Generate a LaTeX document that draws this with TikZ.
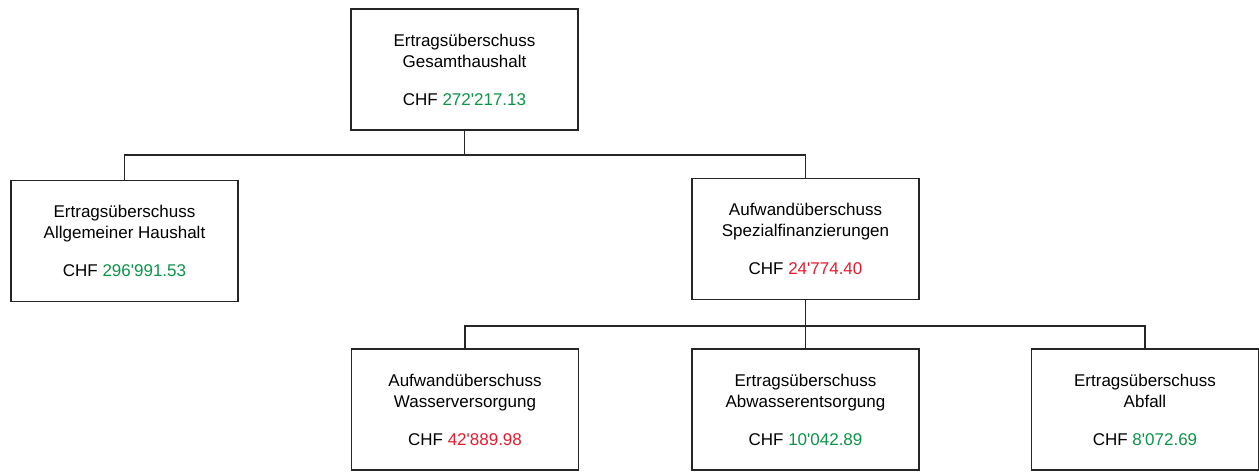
\documentclass[tikz,border=0pt]{standalone}
\usepackage{fontspec}
\setmainfont{Liberation Sans}[Ligatures=TeXOff]
\definecolor{posgreen}{RGB}{10,150,70}
\definecolor{negred}{RGB}{235,25,45}
\begin{document}
\begin{tikzpicture}[x=1pt,y=1pt,
  acct/.style={draw=black!85, line width=1.3pt, fill=white, minimum width=227pt, minimum height=121pt,
    inner sep=0pt, align=center, font=\fontsize{17}{21}\selectfont},
  conn/.style={draw=black!85, line width=1.3pt}]
\useasboundingbox (0,0) rectangle (1259,472);
\node[acct] (top) at (464.5,472-69.5) {Ertragsüberschuss\\Gesamthaushalt\\[17pt]CHF \textcolor{posgreen}{272'217.13}};
\node[acct] (left) at (124.5,472-241) {Ertragsüberschuss\\Allgemeiner Haushalt\\[17pt]CHF \textcolor{posgreen}{296'991.53}};
\node[acct] (spez) at (805.5,472-239) {Aufwandüberschuss\\Spezialfinanzierungen\\[17pt]CHF \textcolor{negred}{24'774.40}};
\node[acct] (wasser) at (465,472-409.5) {Aufwandüberschuss\\Wasserversorgung\\[17pt]CHF \textcolor{negred}{42'889.98}};
\node[acct] (abwasser) at (805.5,472-409.5) {Ertragsüberschuss\\Abwasserentsorgung\\[17pt]CHF \textcolor{posgreen}{10'042.89}};
\node[acct] (abfall) at (1145,472-409.5) {Ertragsüberschuss\\Abfall\\[17pt]CHF \textcolor{posgreen}{8'072.69}};
\coordinate (bus1) at (0,472-155);
\coordinate (bus2) at (0,472-326);
\draw[conn] (top.south) -- (top.south |- bus1) -| (left.north);
\draw[conn] (top.south |- bus1) -| (spez.north);
\draw[conn] (spez.south) -- (spez.south |- bus2) -| (wasser.north);
\draw[conn] (spez.south |- bus2) -| (abwasser.north);
\draw[conn] (spez.south |- bus2) -| (abfall.north);
\end{tikzpicture}
\end{document}
